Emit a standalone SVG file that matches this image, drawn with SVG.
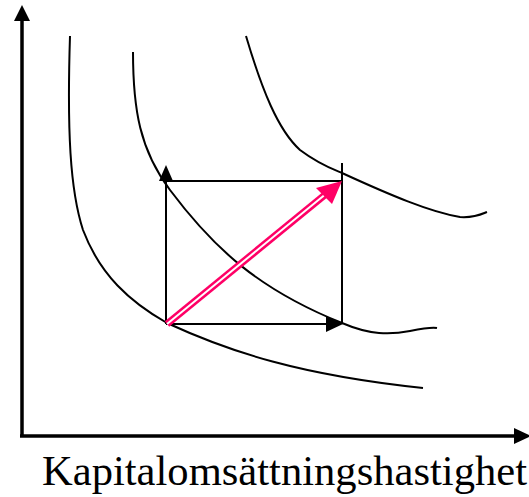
<svg xmlns="http://www.w3.org/2000/svg" width="529" height="497" viewBox="0 0 529 497">
<style>
.curve{fill:none;stroke:#000;stroke-width:2}
.axis{fill:none;stroke:#000;stroke-width:3.5}
.box{fill:none;stroke:#000;stroke-width:2}
.lbl{font-family:"Liberation Serif","Times New Roman",serif;font-size:42px;fill:#000}
</style>
<rect width="529" height="497" fill="#fff"/>
<g id="axes">
<line class="axis" x1="22" y1="437" x2="22" y2="18"/>
<polygon points="22,5 14,21 30,21" fill="#000"/>
<line class="axis" x1="20" y1="436" x2="516" y2="436"/>
<polygon points="531,436 514,428 514,444" fill="#000"/>
</g>
<g id="curve1"><path class="curve" d="M70,36 C67,130 70,190 83,230 C100,275 130,302 167,323 C230,352 300,375 423,388"/></g>
<g id="curve2"><path class="curve" d="M133,52 C133,110 140,150 170,190 C215,250 260,290 342,323 C370,335 390,335 410,331 C425,328 432,327 437,328"/></g>
<g id="curve3"><path class="curve" d="M246,36 C262,90 278,130 300,150 C320,165 335,170 342,173 C390,195 430,212 460,217 C475,218 482,214 487,212"/></g>
<g id="connectors">
<line class="box" x1="166" y1="324" x2="166" y2="178"/>
<polygon points="166,165 159,181 173,181" fill="#000"/>
<line class="box" x1="166" y1="181" x2="342" y2="181"/>
<line class="box" x1="342" y1="163" x2="342" y2="324"/>
<line class="box" x1="166" y1="324" x2="330" y2="324"/>
<polygon points="343,324 326,316 326,332" fill="#000"/>
<line x1="167" y1="324" x2="326" y2="194" stroke="#FF0066" stroke-width="7"/>
<line x1="167" y1="324" x2="327" y2="193" stroke="#fff" stroke-width="2"/>
<polygon points="342,181 316,188 332,204" fill="#FF0066"/>
</g>
<text class="lbl" x="42" y="485" textLength="485" lengthAdjust="spacingAndGlyphs">Kapitalomsättningshastighet</text>
</svg>
